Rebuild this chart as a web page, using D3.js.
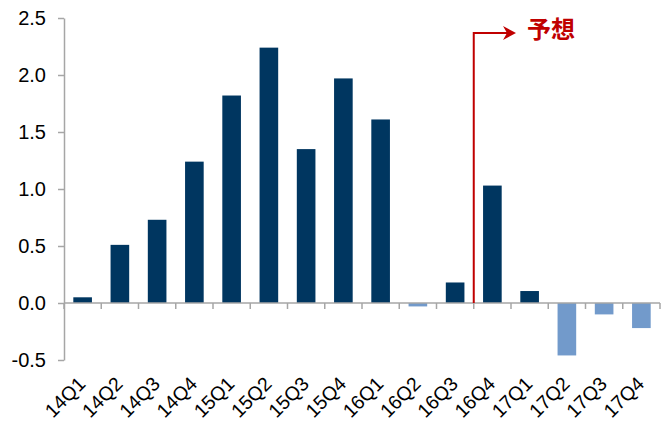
<!DOCTYPE html>
<html>
<head>
<meta charset="utf-8">
<script src="https://cdn.jsdelivr.net/npm/d3@7"></script>
<style>
  html, body { margin: 0; padding: 0; background: #fff; }
  svg { display: block; }
</style>
</head>
<body>
<svg id="chart" width="669" height="421"></svg>
<script>
const categories = ["14Q1","14Q2","14Q3","14Q4","15Q1","15Q2","15Q3","15Q4","16Q1","16Q2","16Q3","16Q4","17Q1","17Q2","17Q3","17Q4"];
const values = [0.05, 0.51, 0.73, 1.24, 1.82, 2.24, 1.35, 1.97, 1.61, -0.03, 0.18, 1.03, 0.105, -0.46, -0.10, -0.22];
const yTicks = [-0.5, 0.0, 0.5, 1.0, 1.5, 2.0, 2.5];
const forecastStart = "16Q4";
const forecastLabel = "予想";

const svg = d3.select("#chart");
const plotLeft = 64, plotRight = 660, plotTop = 18, plotBottom = 360;

const x = d3.scaleBand().domain(categories).range([plotLeft, plotRight]).paddingInner(0.5).paddingOuter(0.25);
const y = d3.scaleLinear().domain([-0.5, 2.5]).range([plotBottom, plotTop]);
const step = x.step();
const axisColor = "#a6a6a6";

// bars
svg.append("g").selectAll("rect").data(categories).join("rect")
  .attr("x", (d) => x(d))
  .attr("width", x.bandwidth())
  .attr("y", (d, i) => y(Math.max(0, values[i])))
  .attr("height", (d, i) => Math.abs(y(values[i]) - y(0)))
  .attr("fill", (d, i) => values[i] < 0 ? "#729acb" : "#003660");

// y axis
const yAxis = svg.append("g").attr("transform", `translate(${plotLeft},0)`)
  .call(d3.axisLeft(y).tickValues(yTicks).tickSize(6).tickSizeOuter(0));
yAxis.select(".domain").attr("stroke", axisColor).attr("stroke-width", 1.5);
yAxis.selectAll(".tick line").attr("stroke", axisColor).attr("stroke-width", 1.5);
yAxis.selectAll(".tick text")
  .attr("x", -18)
  .attr("font-family", "Arial, 'Liberation Sans', sans-serif")
  .attr("font-size", 20)
  .attr("fill", "#000")
  .text((d) => d < 0 ? "-" + Math.abs(d).toFixed(1) : d.toFixed(1));

// x axis line at zero
const x0 = y(0);
svg.append("line")
  .attr("x1", plotLeft).attr("x2", plotRight).attr("y1", x0).attr("y2", x0)
  .attr("stroke", axisColor).attr("stroke-width", 1.5);
const boundaries = d3.range(categories.length + 1).map((i) => plotLeft + i * step);
svg.append("g").selectAll("line").data(boundaries).join("line")
  .attr("x1", (d) => d).attr("x2", (d) => d)
  .attr("y1", x0).attr("y2", x0 + 6)
  .attr("stroke", axisColor).attr("stroke-width", 1.5);

// x labels
svg.append("g").selectAll("text").data(categories).join("text")
  .attr("transform", (d) => `translate(${x(d) + x.bandwidth() / 2 + 4},385) rotate(-45)`)
  .attr("text-anchor", "end")
  .attr("font-family", "Arial, 'Liberation Sans', sans-serif")
  .attr("font-size", 19.5)
  .attr("fill", "#000")
  .text((d) => d);

// forecast marker
const fx = x(forecastStart) - (step - x.bandwidth()) / 2;
const red = "#c00000";
svg.append("path")
  .attr("d", `M${fx},${x0} V33 H507`)
  .attr("fill", "none").attr("stroke", red).attr("stroke-width", 2);
svg.append("path")
  .attr("d", `M503,26 L516,33 L503,40 L507,33 Z`)
  .attr("fill", red);
svg.append("text")
  .attr("x", 527).attr("y", 38)
  .attr("font-family", "'Noto Sans CJK JP', 'Noto Sans CJK SC', sans-serif")
  .attr("font-weight", "bold")
  .attr("font-size", 24)
  .attr("fill", red)
  .text(forecastLabel);
</script>
</body>
</html>
